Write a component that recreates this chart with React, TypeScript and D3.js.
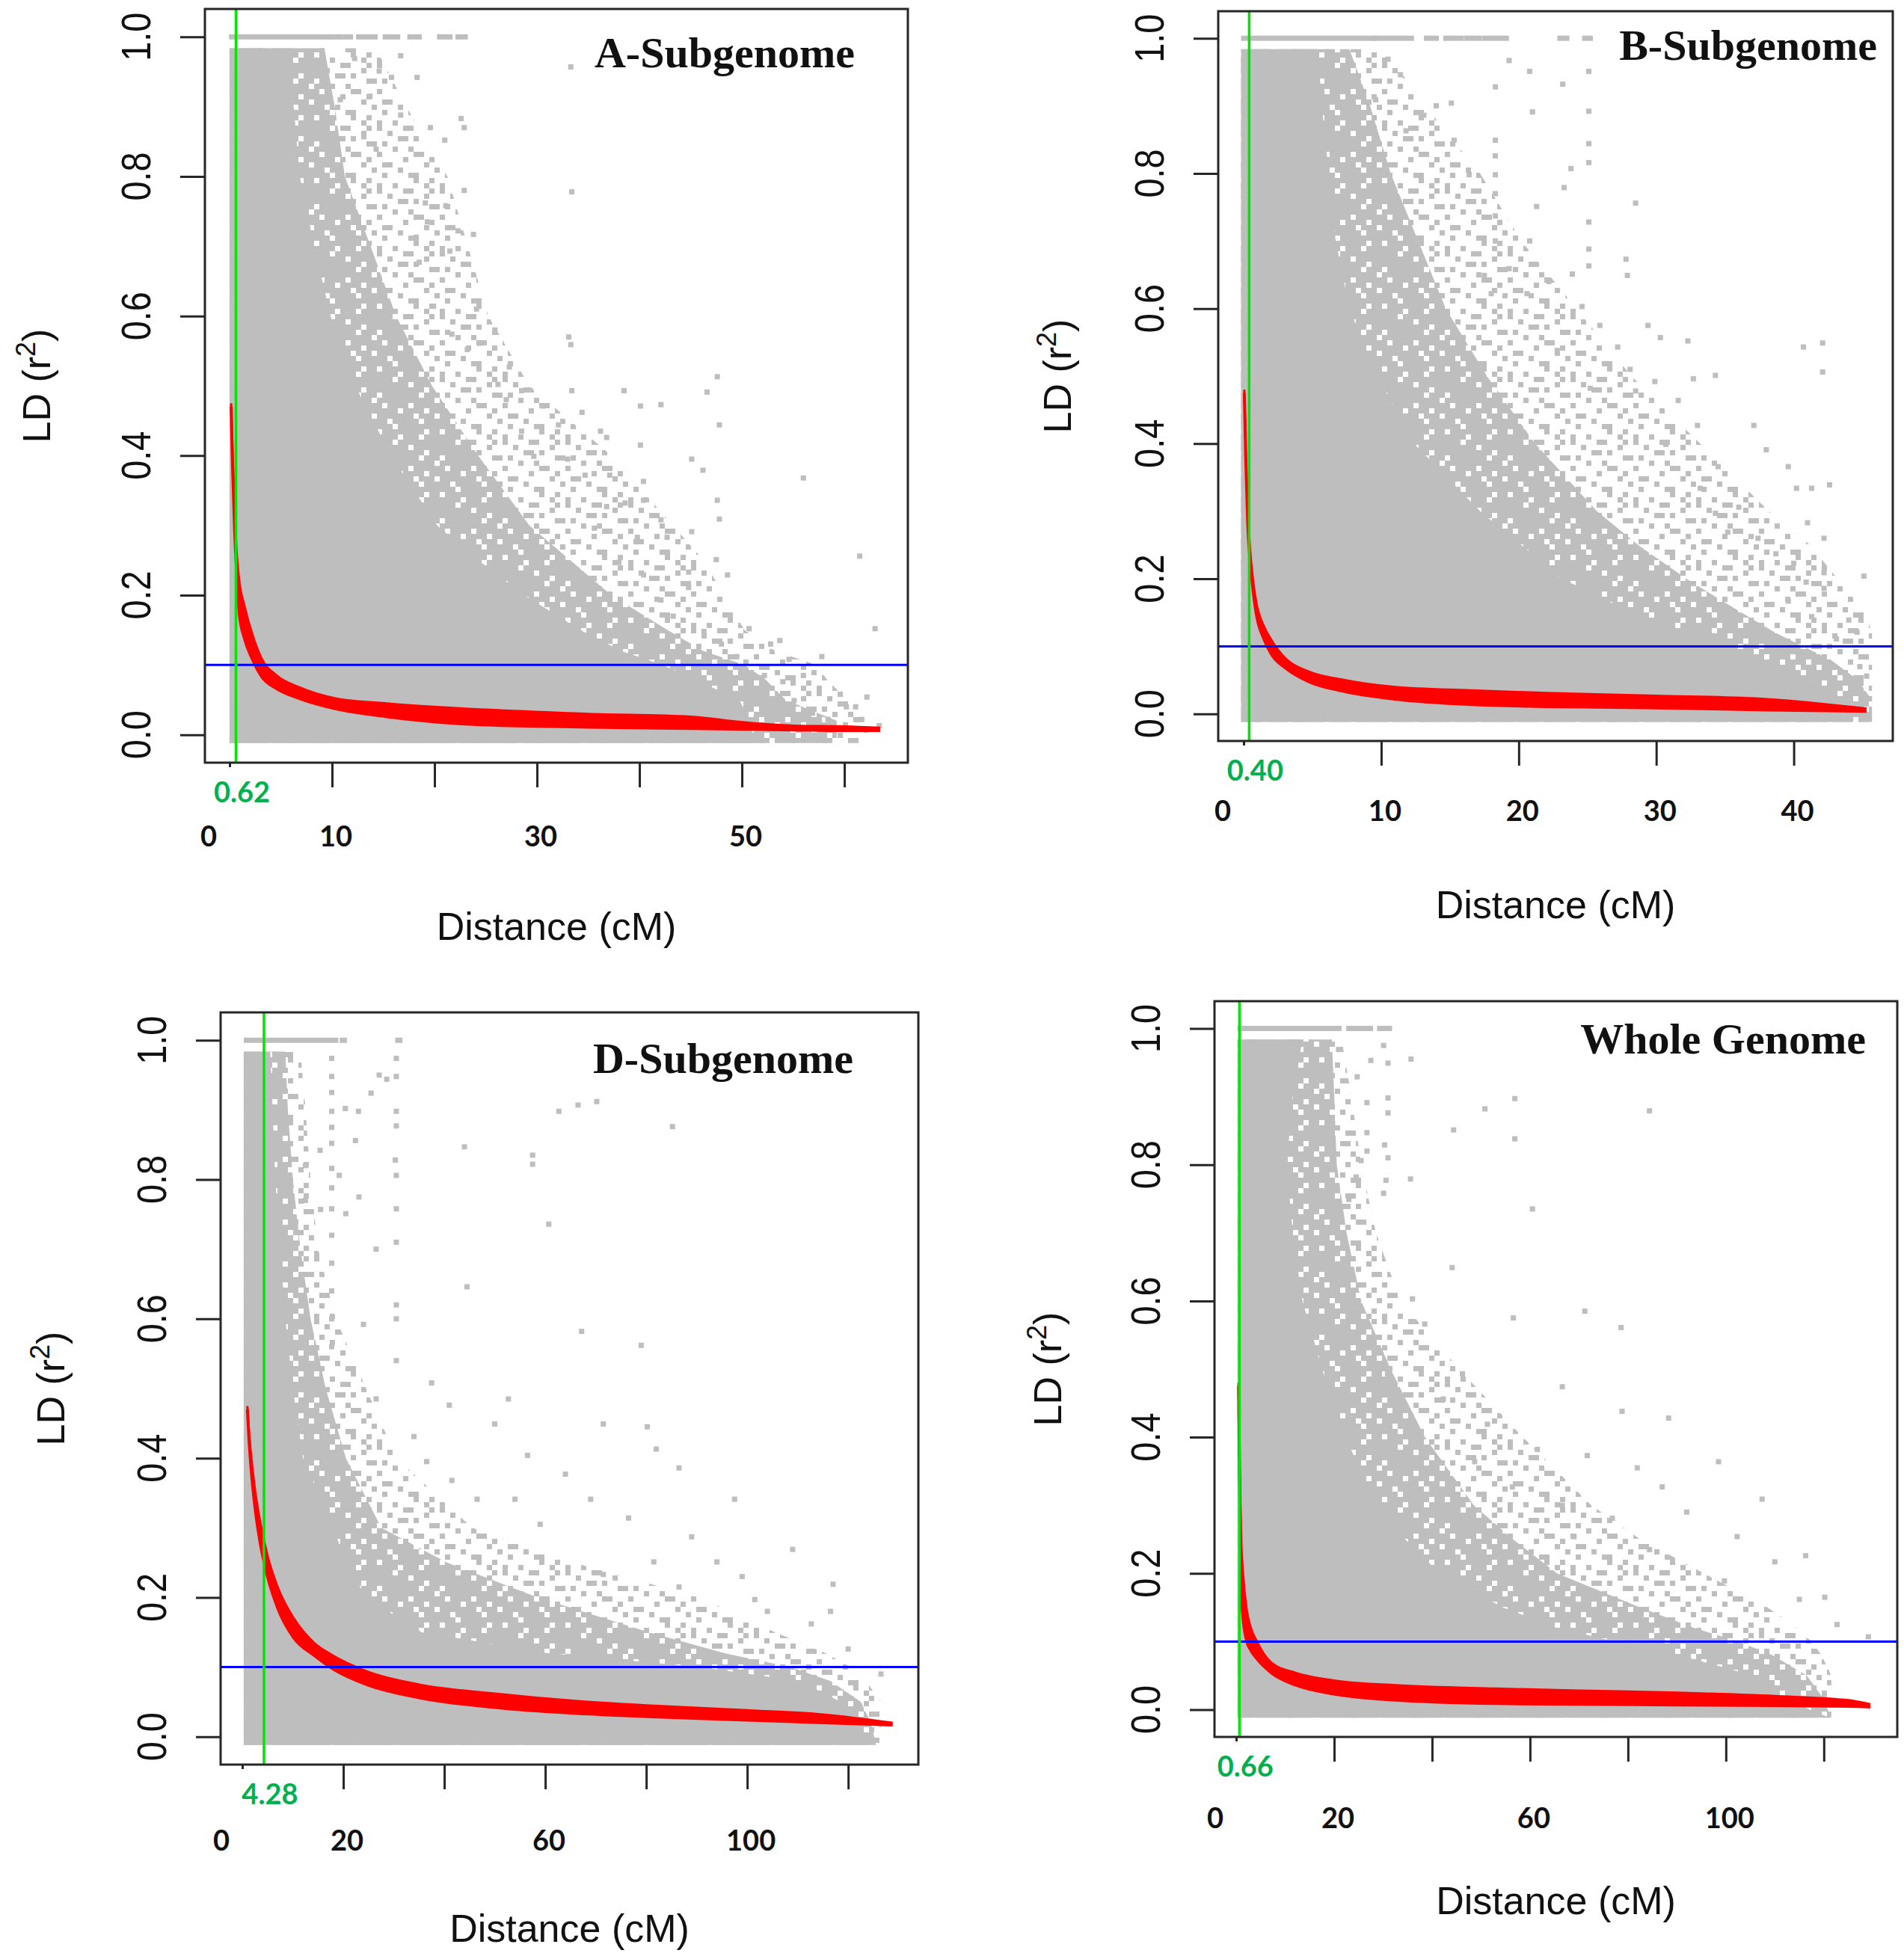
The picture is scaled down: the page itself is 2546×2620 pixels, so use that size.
import { useEffect, useRef } from "react";
import * as d3 from "d3";

const LEVELS = [0.98, 0.9, 0.8, 0.7, 0.6, 0.5, 0.4, 0.3, 0.25, 0.2, 0.15, 0.12, 0.1, 0.08, 0.05, 0.02, -0.008];

const Y_TICKS = [0, 0.2, 0.4, 0.6, 0.8, 1.0];

// ---- A-Subgenome
const A_CORE = [5.4, 6, 6.6, 8, 9.6, 12, 15.5, 20, 24, 28.5, 34, 38, 42, 45, 49.5, 50.5, 51];
const A_MID = [9, 10, 11, 13.5, 16, 19.5, 24, 29, 33, 37, 42.5, 46, 50, 52, 54, 59, 59];
const A_OUTER = [14, 17, 21, 23, 25, 29, 37, 43, 46, 48, 50, 53, 57, 58, 60, 62, 62];
const A_ROW1 = [[0.2, 9.6], [9.9, 10.8], [11.3, 11.8], [12.6, 14.2], [15.2, 16.4], [17.6, 18.5], [20.5, 21.5], [22.3, 23]];
const A_DIST = [0.15, 0.3, 0.5, 0.7, 0.95, 1.45, 2.2, 3.1, 4.6, 6.8, 10.4, 15.3, 25, 35, 45, 50, 55, 60, 63.5];
const A_LOW = [0.47, 0.38, 0.29, 0.23, 0.173, 0.138, 0.109, 0.084, 0.066, 0.052, 0.037, 0.026, 0.014, 0.011, 0.009, 0.008, 0.007, 0.006, 0.006];
const A_HIGH = [0.475, 0.4, 0.32, 0.26, 0.22, 0.185, 0.145, 0.11, 0.085, 0.068, 0.052, 0.045, 0.036, 0.03, 0.026, 0.018, 0.013, 0.012, 0.01];
const A_POINTS = [
  [33.3, 0.957], [33.4, 0.778], [33.1, 0.57], [33.3, 0.559], [33.4, 0.493], [38.5, 0.493], [40.1, 0.471], [42.1, 0.473],
  [46.6, 0.491], [47.6, 0.513], [47.8, 0.444], [56.0, 0.368], [61.5, 0.256], [63.0, 0.152], [45.1, 0.395], [46.2, 0.379],
  [40.1, 0.415], [40.4, 0.363], [47.6, 0.336], [47.8, 0.309], [45.1, 0.291], [44.8, 0.233], [44.8, 0.211], [48.6, 0.229],
  [47.5, 0.251], [50.7, 0.152], [52.8, 0.13], [53.7, 0.135], [54.6, 0.108], [56.0, 0.085], [57.8, 0.112], [59.6, 0.058],
  [61.1, 0.04], [62.2, 0.054], [37.1, 0.372], [34.7, 0.372], [36.8, 0.426], [33.0, 0.395], [29.7, 0.399], [28.5, 0.435],
  [32.1, 0.444], [30.6, 0.471], [27.3, 0.527], [25.9, 0.58], [24.1, 0.61], [23.8, 0.717], [22.9, 0.78], [22.3, 0.722],
  [21.5, 0.693], [22.6, 0.883], [22.9, 0.87], [19.6, 0.87], [21.0, 0.852], [18.3, 0.942], [16.7, 0.973], [15.8, 0.942],
  [14.6, 0.951], [13.7, 0.915], [12.2, 0.969], [10.8, 0.91], [13.1, 0.857], [14.3, 0.839], [16.7, 0.888], [19.1, 0.762],
  [19.3, 0.735], [21.1, 0.758], [18.2, 0.713], [18.5, 0.677], [19.9, 0.614], [21.7, 0.574], [23.2, 0.552], [24.4, 0.561],
  [26.2, 0.502], [27.0, 0.48], [28.5, 0.493], [34.4, 0.462], [36.2, 0.435], [38.6, 0.332], [40.4, 0.336], [42.1, 0.308],
  [42.7, 0.283], [39.8, 0.283], [36.8, 0.327], [35.6, 0.296], [38.0, 0.247], [40.4, 0.229], [42.1, 0.193], [43.3, 0.17],
  [46.3, 0.148], [48.0, 0.13], [49.5, 0.112], [52.2, 0.085], [54.0, 0.076], [55.1, 0.049], [56.9, 0.031], [58.4, 0.022],
  [60.2, 0.04], [61.7, 0.022], [63.4, 0.013],
];
const A_TICKS = [10, 20, 30, 40, 50, 60];
const A_LABELS = [0, 10, 30, 50];

// ---- B-Subgenome
const B_CORE = [5.2, 5.5, 6, 6.5, 7.5, 9.5, 12.2, 17, 20, 23, 28, 32, 35, 37.5, 41, 43, 44];
const B_MID = [7.5, 9, 10.5, 12.5, 14.5, 17.5, 21, 25.5, 28.5, 32, 36, 38.5, 40.5, 42.5, 44.5, 45.5, 45.5];
const B_OUTER = [10, 13, 17, 20, 24, 28, 33, 38, 41, 43, 45, 45.5, 45.5, 45.5, 45.5, 45.5, 45.5];
const B_ROW1 = [[0, 9.5], [9.6, 12.2], [13.3, 14], [14.7, 15.8], [16.2, 17.1], [17.5, 19.1], [23, 23.5], [24.8, 25.2]];
const B_DIST = [0.05, 0.15, 0.3, 0.5, 0.7, 0.92, 1.47, 2.0, 3.1, 4.7, 7.4, 11, 16.5, 22, 30, 38, 45.3];
const B_LOW = [0.475, 0.38, 0.28, 0.22, 0.18, 0.148, 0.111, 0.089, 0.067, 0.048, 0.033, 0.022, 0.014, 0.011, 0.009, 0.006, 0.004];
const B_HIGH = [0.48, 0.39, 0.3, 0.235, 0.195, 0.165, 0.13, 0.11, 0.081, 0.063, 0.05, 0.04, 0.035, 0.031, 0.027, 0.022, 0.008];
const B_POINTS = [
  [19.3, 0.967], [20.8, 0.951], [23.2, 0.932], [25.1, 0.951], [25.1, 0.892], [25.1, 0.844], [25.1, 0.816], [25.1, 0.728],
  [25.1, 0.688], [25.1, 0.663], [23.8, 0.807], [23.3, 0.779], [21.3, 0.751], [20.8, 0.7], [21.0, 0.891], [18.3, 0.928],
  [18.3, 0.849], [18.3, 0.826], [18.3, 0.798], [18.3, 0.77], [18.3, 0.737], [18.3, 0.7], [16.4, 0.798], [15.3, 0.849],
  [15.1, 0.904], [14.0, 0.9], [27.8, 0.673], [27.9, 0.649], [28.5, 0.756], [22.2, 0.64], [23.9, 0.651], [25.9, 0.575],
  [27.2, 0.543], [29.4, 0.575], [30.3, 0.557], [32.3, 0.552], [32.7, 0.496], [29.9, 0.492], [28.5, 0.478], [25.2, 0.482],
  [28.1, 0.51], [40.7, 0.543], [42.1, 0.549], [42.1, 0.506], [37.1, 0.427], [38.0, 0.391], [39.6, 0.366], [41.3, 0.334],
  [42.6, 0.339], [40.2, 0.334], [41.0, 0.283], [42.2, 0.26], [42.2, 0.209], [42.2, 0.186], [45.1, 0.204], [44.0, 0.139],
  [44.6, 0.121], [43.1, 0.111], [44.8, 0.07], [45.3, 0.056], [34.5, 0.366], [33.2, 0.334], [34.3, 0.297], [36.0, 0.306],
  [35.2, 0.269], [37.4, 0.26], [38.7, 0.237], [40.0, 0.223], [40.9, 0.195], [39.6, 0.167], [41.3, 0.144], [31.6, 0.464],
  [34.3, 0.501], [33.0, 0.427], [30.7, 0.399], [22.8, 0.538], [24.6, 0.603], [20.6, 0.622], [19.3, 0.659], [17.5, 0.649],
  [18.0, 0.622], [11.4, 0.946], [10.5, 0.969], [13.1, 0.886], [11.8, 0.863], [9.6, 0.909],
];
const B_TICKS = [10, 20, 30, 40];
const B_LABELS = [0, 10, 20, 30, 40];

// ---- D-Subgenome
const D_CORE = [5, 5.5, 6, 7, 8, 9.5, 11.5, 17.5, 20, 24, 35, 60, 90, 110, 118, 121, 124];
const D_MID = [8, 8.5, 9.5, 11, 13, 16, 20, 27, 40, 58, 80, 95, 108, 116, 122, 124, 125];
const D_OUTER = [11, 12, 13, 14.5, 18, 24, 30, 45, 65, 90, 105, 115, 120, 123, 126, 126, 126];
const D_ROW1 = [[0.8, 18.5], [19.8, 20.2], [30.8, 31.2]];
const D_DIST = [1.0, 1.3, 1.8, 2.5, 3.5, 5, 7, 10.2, 14.2, 17.6, 25, 35, 50, 65, 80, 100, 115, 128.8];
const D_LOW = [0.47, 0.43, 0.38, 0.33, 0.28, 0.23, 0.185, 0.142, 0.117, 0.099, 0.074, 0.056, 0.042, 0.034, 0.029, 0.024, 0.02, 0.017];
const D_HIGH = [0.475, 0.44, 0.4, 0.355, 0.31, 0.26, 0.215, 0.17, 0.135, 0.118, 0.093, 0.075, 0.062, 0.052, 0.045, 0.038, 0.032, 0.02];
const D_POINTS = [
  [17.7, 0.974], [30.5, 0.974], [30.5, 0.948], [30.5, 0.898], [30.5, 0.877], [30.3, 0.828], [30.5, 0.806], [30.5, 0.758],
  [17.7, 0.948], [17.7, 0.925], [17.7, 0.898], [17.7, 0.875], [17.7, 0.852], [17.7, 0.816], [17.7, 0.788], [17.7, 0.758],
  [19.2, 0.806], [20.4, 0.902], [23.0, 0.898], [22.4, 0.856], [23.1, 0.775], [25.5, 0.924], [27.1, 0.95], [28.6, 0.944],
  [20.5, 0.751], [15.4, 0.842], [12.5, 0.82], [12.5, 0.77], [15.5, 0.757], [17.7, 0.72], [17.7, 0.68], [17.7, 0.64],
  [17.7, 0.6], [17.7, 0.56], [30.5, 0.71], [30.5, 0.62], [30.5, 0.6], [30.5, 0.54], [44.0, 0.847], [57.5, 0.835],
  [57.5, 0.822], [62.7, 0.898], [66.5, 0.907], [70.2, 0.912], [85.2, 0.876], [60.7, 0.736], [44.5, 0.646], [67.2, 0.582],
  [79.0, 0.562], [37.5, 0.508], [41.0, 0.476], [52.7, 0.485], [71.5, 0.449], [80.2, 0.445], [82.0, 0.413], [86.5, 0.386],
  [97.5, 0.341], [109.0, 0.269], [117.0, 0.219], [104.0, 0.18], [112.7, 0.162], [120.0, 0.126], [126.5, 0.09], [50.0, 0.449],
  [56.5, 0.404], [64.0, 0.377], [69.0, 0.341], [76.5, 0.314], [89.0, 0.287], [94.0, 0.251], [99.0, 0.23], [101.5, 0.197],
  [36.5, 0.395], [41.5, 0.368], [46.5, 0.341], [26.5, 0.7], [24.0, 0.592], [26.5, 0.485], [34.0, 0.431], [54.0, 0.341],
  [59.0, 0.305], [81.5, 0.251], [71.5, 0.233], [86.5, 0.215], [116.5, 0.18],
];
const D_TICKS = [20, 40, 60, 80, 100, 120];
const D_LABELS = [0, 20, 60, 100];

// ---- Whole Genome
const W_CORE = [13, 11, 9.8, 11, 13, 17, 21.8, 28, 34, 41, 54, 65, 77, 90, 105, 110, 120.6];
const W_MID = [19, 19.5, 20, 22, 25, 31, 38, 48, 56, 65, 82, 93, 102, 109, 116, 119, 121];
const W_OUTER = [21, 23, 25, 28, 33, 45, 58, 72, 82, 95, 108, 114, 117, 119, 121, 121, 121];
const W_ROW1 = [[0.8, 21], [23, 26], [26.8, 27.4], [29.3, 31.3]];
const W_DIST = [0.5, 0.7, 0.9, 1.07, 1.4, 2.1, 3, 4.1, 7.2, 12.2, 19.9, 32.6, 53, 70, 90, 110, 125, 129.5];
const W_LOW = [0.475, 0.34, 0.24, 0.17, 0.135, 0.102, 0.087, 0.076, 0.054, 0.036, 0.023, 0.014, 0.009, 0.008, 0.007, 0.006, 0.005, 0.004];
const W_HIGH = [0.48, 0.36, 0.28, 0.24, 0.2, 0.149, 0.12, 0.102, 0.069, 0.054, 0.043, 0.036, 0.031, 0.028, 0.025, 0.02, 0.014, 0.008];
const W_POINTS = [
  [17.6, 0.975], [20.9, 0.969], [30.1, 0.975], [35.7, 0.955], [31.0, 0.949], [27.5, 0.953], [24.7, 0.929], [26.7, 0.891],
  [31.0, 0.898], [31.0, 0.876], [26.7, 0.847], [30.3, 0.829], [26.7, 0.82], [31.0, 0.81], [25.5, 0.806], [24.5, 0.782],
  [35.6, 0.779], [30.6, 0.777], [23.0, 0.749], [30.1, 0.758], [50.8, 0.882], [56.9, 0.897], [44.4, 0.851], [56.9, 0.838],
  [84.4, 0.879], [60.5, 0.735], [44.1, 0.649], [71.2, 0.585], [56.6, 0.575], [78.6, 0.561], [36.0, 0.603], [46.2, 0.493],
  [66.6, 0.474], [78.8, 0.438], [88.3, 0.428], [98.5, 0.364], [107.4, 0.309], [116.3, 0.226], [120.2, 0.165], [129.1, 0.107],
  [38.5, 0.566], [42.3, 0.456], [51.3, 0.419], [61.5, 0.382], [71.7, 0.373], [81.9, 0.355], [87.0, 0.327], [92.0, 0.29],
  [102.3, 0.254], [110.0, 0.217], [115.0, 0.162], [122.7, 0.125], [56.4, 0.327], [66.6, 0.3], [76.8, 0.281], [48.7, 0.364],
  [30.9, 0.493], [28.3, 0.438], [69.0, 0.254], [84.4, 0.235], [99.7, 0.189],
];
const W_TICKS = [20, 40, 60, 80, 100, 120];
const W_LABELS = [0, 20, 60, 100];

const TITLES = ["A-Subgenome", "B-Subgenome", "D-Subgenome", "Whole Genome"];
const CUTOFFS = [0.62, 0.4, 4.28, 0.66];

// 12x12 tiles (7 px cells) that mimic overplotted points at two densities
const DENSE_TILE = [
  "111011111101", "110111011111", "111110111011", "011111110111", "111011111110", "101111011111",
  "111101111011", "111111101110", "110111110111", "111011011111", "011111111011", "111101110111",
];
const SPARSE_TILE = [
  "100001100010", "001000000100", "000011010000", "010000000011", "000100100000", "100000011000",
  "000001000010", "011000000100", "000010000001", "010000110000", "000000010010", "100100000100",
];

const GRAY = "#bebebe";

type Panel = {
  title: string;
  cutoff: number;
  box: number[]; // left, top, right, bottom
  xDomain: number[];
  xStart: number;
  titleX: number;
  titleY: number;
  labelDy: number;
  ldGap: number;
  core: number[];
  mid: number[];
  outer: number[];
  row1: number[][];
  dist: number[];
  low: number[];
  high: number[];
  points: number[][];
  ticks: number[];
  labels: number[];
};

const PANELS: Panel[] = [
  { title: TITLES[0], cutoff: CUTOFFS[0], box: [274, 12, 1214, 1020], xDomain: [-2.41, 66.2], xStart: 0.25,
    titleX: 1143, titleY: 90, labelDy: 112, ldGap: 207,
    core: A_CORE, mid: A_MID, outer: A_OUTER, row1: A_ROW1, dist: A_DIST, low: A_LOW, high: A_HIGH, points: A_POINTS, ticks: A_TICKS, labels: A_LABELS },
  { title: TITLES[1], cutoff: CUTOFFS[1], box: [1629, 15, 2531, 991], xDomain: [-1.85, 47.2], xStart: 0,
    titleX: 2510, titleY: 80, labelDy: 107, ldGap: 197,
    core: B_CORE, mid: B_MID, outer: B_OUTER, row1: B_ROW1, dist: B_DIST, low: B_LOW, high: B_HIGH, points: B_POINTS, ticks: B_TICKS, labels: B_LABELS },
  { title: TITLES[2], cutoff: CUTOFFS[2], box: [295, 1354, 1228, 2360], xDomain: [-4.3, 133.9], xStart: 0.8,
    titleX: 1141, titleY: 1435, labelDy: 115, ldGap: 209,
    core: D_CORE, mid: D_MID, outer: D_OUTER, row1: D_ROW1, dist: D_DIST, low: D_LOW, high: D_HIGH, points: D_POINTS, ticks: D_TICKS, labels: D_LABELS },
  { title: TITLES[3], cutoff: CUTOFFS[3], box: [1624, 1339, 2537, 2323], xDomain: [-4.43, 135], xStart: 0.8,
    titleX: 2495, titleY: 1409, labelDy: 122, ldGap: 205,
    core: W_CORE, mid: W_MID, outer: W_OUTER, row1: W_ROW1, dist: W_DIST, low: W_LOW, high: W_HIGH, points: W_POINTS, ticks: W_TICKS, labels: W_LABELS },
];

function addTile(defs: d3.Selection<SVGDefsElement, unknown, null, undefined>, id: string, rows: string[]) {
  const pat = defs.append("pattern").attr("id", id)
    .attr("width", rows[0].length * 7).attr("height", rows.length * 7).attr("patternUnits", "userSpaceOnUse");
  rows.forEach((row, r) =>
    row.split("").forEach((c, k) => {
      if (c === "1") pat.append("rect").attr("x", k * 7).attr("y", r * 7).attr("width", 7).attr("height", 7).attr("fill", GRAY);
    })
  );
}

function drawPanel(svg: d3.Selection<SVGSVGElement, unknown, null, undefined>, p: Panel, i: number) {
  const [left, top, right, bottom] = p.box;
  const x = d3.scaleLinear().domain(p.xDomain).range([left, right]);
  const y = d3.scaleLinear().domain([-0.04, 1.04]).range([bottom, top]);
  const half = 3.5;

  const g = svg.append("g");
  const clipId = `clip${i}`;
  svg.select("defs").append("clipPath").attr("id", clipId)
    .append("rect").attr("x", left).attr("y", top).attr("width", right - left).attr("height", bottom - top);
  const plot = g.append("g").attr("clip-path", `url(#${clipId})`);

  // cloud outline in pixel space, padded by half a point
  const outline = (edge: number[]) => {
    const pts: [number, number][] = [[x(p.xStart) - half, y(-0.008) + half], [x(p.xStart) - half, y(0.98) - half]];
    LEVELS.forEach((lv, k) => pts.push([x(edge[k]) + half, y(lv) + (k === 0 ? -half : k === LEVELS.length - 1 ? half : 0)]));
    return d3.line()(pts) + "Z";
  };

  plot.append("path").attr("d", outline(p.outer)).attr("fill", "url(#sparse)");
  plot.append("path").attr("d", outline(p.mid)).attr("fill", "url(#dense)");
  plot.append("path").attr("d", outline(p.core)).attr("fill", GRAY);

  plot.selectAll(".row1").data(p.row1).enter().append("rect")
    .attr("x", (d) => x(d[0]) - half).attr("y", y(1) - half)
    .attr("width", (d) => x(d[1]) - x(d[0]) + 2 * half).attr("height", 2 * half)
    .attr("fill", GRAY);

  plot.selectAll(".pt").data(p.points).enter().append("rect")
    .attr("x", (d) => x(d[0]) - half).attr("y", (d) => y(d[1]) - half)
    .attr("width", 2 * half).attr("height", 2 * half).attr("fill", GRAY);

  // decay band
  const idx = p.dist.map((_, k) => k);
  const band = d3.area<number>().x((k) => x(p.dist[k])).y0((k) => y(p.low[k])).y1((k) => y(p.high[k])).curve(d3.curveMonotoneX);
  plot.append("path").attr("d", band(idx)).attr("fill", "#ff0000");
  const lowLine = d3.line<number>().x((k) => x(p.dist[k])).y((k) => y(p.low[k])).curve(d3.curveMonotoneX);
  const highLine = d3.line<number>().x((k) => x(p.dist[k])).y((k) => y(p.high[k])).curve(d3.curveMonotoneX);
  plot.append("path").attr("d", lowLine(idx)).attr("fill", "none").attr("stroke", "#ff0000").attr("stroke-width", 4);
  plot.append("path").attr("d", highLine(idx)).attr("fill", "none").attr("stroke", "#ff0000").attr("stroke-width", 3);

  // threshold and cutoff lines
  plot.append("line").attr("x1", left).attr("x2", right).attr("y1", y(0.1)).attr("y2", y(0.1))
    .attr("stroke", "#0000ff").attr("stroke-width", 3);
  plot.append("line").attr("x1", x(p.cutoff)).attr("x2", x(p.cutoff)).attr("y1", top).attr("y2", bottom)
    .attr("stroke", "#00e600").attr("stroke-width", 3.5);

  // frame
  g.append("rect").attr("x", left).attr("y", top).attr("width", right - left).attr("height", bottom - top)
    .attr("fill", "none").attr("stroke", "#262626").attr("stroke-width", 3);

  // axes
  const styleAxis = (s: d3.Selection<SVGGElement, unknown, null, undefined>) => {
    s.select(".domain").remove();
    s.selectAll(".tick line").attr("stroke", "#262626").attr("stroke-width", 3);
    s.selectAll(".tick text").remove();
  };
  g.append("g").attr("transform", `translate(0,${bottom})`)
    .call(d3.axisBottom(x).tickValues(p.ticks).tickSize(33).tickFormat(() => ""))
    .call(styleAxis);
  g.append("g").attr("transform", `translate(0,${bottom})`)
    .call(d3.axisBottom(x).tickValues([0]).tickSize(6).tickFormat(() => ""))
    .call(styleAxis);
  g.append("g").attr("transform", `translate(${left},0)`)
    .call(d3.axisLeft(y).tickValues(Y_TICKS).tickSize(33).tickFormat(() => ""))
    .call(styleAxis);

  // y tick labels (parallel to axis, tall narrow digits)
  g.selectAll(".ylab").data(Y_TICKS).enter().append("text")
    .attr("transform", (d) => `translate(${left - 73},${y(d)}) rotate(-90) scale(0.9,1.08)`)
    .attr("text-anchor", "middle")
    .attr("font-family", "'Liberation Sans', Arial, sans-serif").attr("font-size", 52).attr("fill", "#111")
    .text((d) => d3.format(".1f")(d));

  // x tick labels
  g.selectAll(".xlab").data(p.labels).enter().append("text")
    .attr("x", (d) => x(d) + (d === 0 ? -28 : 5))
    .attr("y", bottom + p.labelDy)
    .attr("text-anchor", "middle")
    .attr("font-family", "Lato, 'Open Sans', sans-serif").attr("font-weight", 700).attr("font-size", 38).attr("fill", "#111")
    .text((d) => String(d));

  // cutoff label
  g.append("text").attr("x", x(p.cutoff) + 8).attr("y", bottom + 53).attr("text-anchor", "middle")
    .attr("font-family", "Lato, 'Open Sans', sans-serif").attr("font-weight", 700).attr("font-size", 38).attr("fill", "#00b050")
    .text(d3.format(".2f")(p.cutoff));

  // panel title
  g.append("text").attr("x", p.titleX).attr("y", p.titleY).attr("text-anchor", "end")
    .attr("font-family", "'Liberation Serif', 'Times New Roman', serif").attr("font-weight", 700).attr("font-size", 58)
    .attr("fill", "#111").text(p.title);

  // axis titles
  g.append("text").attr("x", (left + right) / 2).attr("y", bottom + 237).attr("text-anchor", "middle")
    .attr("font-family", "'Liberation Sans', Arial, sans-serif").attr("font-size", 52).attr("fill", "#111")
    .text("Distance (cM)");
  const ld = g.append("text")
    .attr("transform", `translate(${left - p.ldGap},${(top + bottom) / 2}) rotate(-90)`)
    .attr("text-anchor", "middle")
    .attr("font-family", "'Liberation Sans', Arial, sans-serif").attr("font-size", 52).attr("fill", "#111");
  ld.append("tspan").text("LD (r");
  ld.append("tspan").attr("font-size", 36).attr("dy", -20).text("2");
  ld.append("tspan").attr("dy", 20).text(")");
}

export default function App() {
  const ref = useRef<SVGSVGElement>(null);

  useEffect(() => {
    if (!ref.current) return;
    document.body.style.margin = "0";
    const svg = d3.select(ref.current);
    svg.selectAll("*").remove();
    svg.append("rect").attr("width", 2546).attr("height", 2620).attr("fill", "#fff");

    const defs = svg.append("defs");
    addTile(defs, "dense", DENSE_TILE);
    addTile(defs, "sparse", SPARSE_TILE);

    PANELS.forEach((p, i) => drawPanel(svg, p, i));
  }, []);

  return <svg ref={ref} width={2546} height={2620} style={{ position: "absolute", left: 0, top: 0 }} />;
}
